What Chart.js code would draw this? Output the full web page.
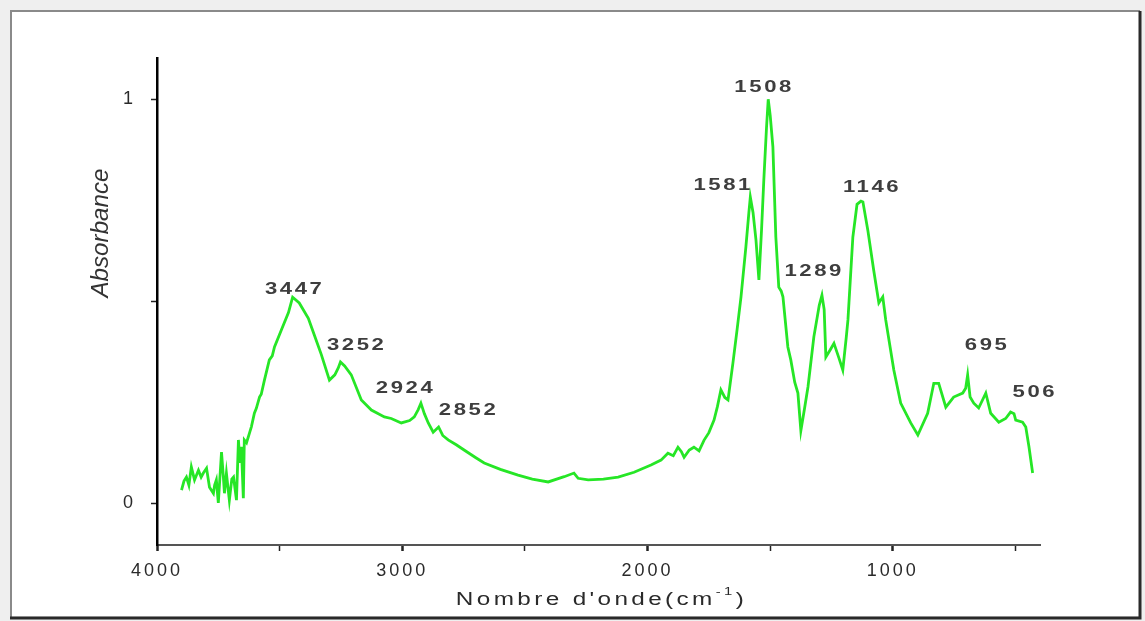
<!DOCTYPE html>
<html>
<head>
<meta charset="utf-8">
<script src="https://cdn.jsdelivr.net/npm/chart.js@4.4.1/dist/chart.umd.min.js"></script>
<style>
html,body{margin:0;padding:0;background:#efefef;overflow:hidden}
#wrap{position:relative;width:1145px;height:621px}
</style>
</head>
<body>
<div id="wrap"><canvas id="c" width="1145" height="621"></canvas></div>
<script>
// ---- data ----
const wavenumber = [
  3900,3890,3880,3870,3860,3847,3831,3820,3811,3798,3786,3770,3765,3758,3750,3737,3730,3725,3717,3705,
  3695,3688,3676,3668,3662,3656,3648,3644,3635,3623,3615,3603,3595,3582,3575,3562,3542,3530,3521,3493,
  3464,3447,3420,3383,3359,3330,3297,3275,3261,3252,3235,3208,3167,3126,3073,3045,3004,2970,2951,2935,
  2924,2910,2894,2874,2852,2835,2813,2780,2748,2700,2666,2600,2528,2470,2405,2340,2300,2283,2242,2180,2120,2055,1986,1945,1917,
  1895,1876,1862,1851,1830,1811,1790,1770,1750,1729,1715,1701,1685,1672,1652,1635,1619,1599,1587,1581,
  1570,1558,1546,1535,1526,1515,1508,1500,1489,1477,1465,1455,1448,1428,1416,1400,1387,1375,1360,1346,
  1322,1300,1289,1280,1273,1255,1240,1220,1204,1190,1183,1163,1146,1130,1122,1102,1078,1057,1041,1029,
  996,968,927,898,858,833,813,784,752,715,703,695,685,670,650,621,601,568,540,520,
  506,499,471,458,445,430
];
const absorbance = [
  0.033,0.055,0.065,0.045,0.090,0.058,0.082,0.065,0.075,0.087,0.040,0.025,0.045,0.058,0.001,0.127,0.070,0.025,0.075,0.008,
  0.060,0.065,0.008,0.157,0.100,0.140,0.013,0.157,0.150,0.174,0.190,0.223,0.235,0.263,0.270,0.305,0.355,0.365,0.387,0.429,
  0.472,0.510,0.496,0.458,0.417,0.368,0.305,0.318,0.335,0.350,0.340,0.318,0.256,0.231,0.214,0.210,0.199,0.205,0.214,0.232,
  0.248,0.222,0.199,0.176,0.189,0.168,0.157,0.145,0.132,0.113,0.100,0.084,0.070,0.060,0.053,0.066,0.075,0.062,0.058,0.060,0.065,0.077,0.095,0.107,0.124,
  0.118,0.139,0.128,0.114,0.132,0.139,0.130,0.156,0.175,0.206,0.240,0.281,0.262,0.256,0.347,0.430,0.511,0.635,0.719,0.758,
  0.720,0.652,0.553,0.680,0.800,0.930,1.000,0.960,0.882,0.659,0.535,0.525,0.511,0.387,0.355,0.300,0.273,0.180,0.235,0.288,
  0.412,0.490,0.515,0.480,0.362,0.380,0.396,0.360,0.330,0.410,0.454,0.659,0.740,0.748,0.746,0.676,0.577,0.496,0.511,0.454,
  0.330,0.248,0.199,0.169,0.223,0.297,0.297,0.238,0.263,0.273,0.285,0.318,0.263,0.248,0.236,0.273,0.223,0.201,0.210,0.226,
  0.222,0.206,0.201,0.189,0.140,0.075
];
const xTickValues = [4000,3500,3000,2500,2000,1500,1000,500];
const xTickLabelled = [4000,3000,2000,1000];
const yTickValues = [0,0.5,1];
const yTickLabelled = [0,1];
const peakLabels = ['3447','3252','2924','2852','1581','1508','1289','1146','695','506'];
const peakLabelX = [3444,3191,2992,2735,1697,1530,1326,1090,621,426];
const peakLabelY = [0.530,0.392,0.285,0.231,0.788,1.030,0.573,0.783,0.392,0.276];
const xTitleMain = "Nombre d'onde(cm";
const xTitleSup = "-1";
const xTitleEnd = ")";
const yTitle = "Absorbance";

const FONT = '"Liberation Sans", Arial, sans-serif';

const framePlugin = {
  id: 'frame',
  beforeDraw(chart) {
    const ctx = chart.ctx;
    ctx.save();
    ctx.fillStyle = '#efefef';
    ctx.fillRect(0, 0, chart.width, chart.height);
    ctx.fillStyle = '#ffffff';
    ctx.fillRect(11, 11, 1129, 605);
    ctx.strokeStyle = '#8a8a8a';
    ctx.lineWidth = 2;
    ctx.beginPath();
    ctx.moveTo(11, 617); ctx.lineTo(11, 11); ctx.lineTo(1140, 11);
    ctx.stroke();
    ctx.strokeStyle = '#2a2a2a';
    ctx.lineWidth = 3;
    ctx.beginPath();
    ctx.moveTo(1140, 11); ctx.lineTo(1140, 618); ctx.lineTo(10, 618);
    ctx.stroke();
    ctx.restore();
    ctx.letterSpacing = '3px';
  },
  afterDatasetsDraw(chart) {
    const ctx = chart.ctx;
    const xs = chart.scales.x, ys = chart.scales.y;
    ctx.save();
    ctx.letterSpacing = '2px';
    ctx.font = 'bold 17px ' + FONT;
    ctx.fillStyle = '#3e3e3e';
    ctx.textAlign = 'center';
    ctx.textBaseline = 'middle';
    for (let i = 0; i < peakLabels.length; i++) {
      const px = xs.getPixelForValue(peakLabelX[i]);
      const py = ys.getPixelForValue(peakLabelY[i]);
      ctx.save();
      ctx.translate(px, py);
      ctx.scale(1.3, 1);
      ctx.fillText(peakLabels[i], 1, 0);
      ctx.restore();
    }
    ctx.restore();
  },
  afterDraw(chart) {
    const ctx = chart.ctx;
    const ca = chart.chartArea;
    // x axis title
    ctx.save();
    ctx.letterSpacing = '2.5px';
    ctx.fillStyle = '#2a2a2a';
    ctx.textBaseline = 'middle';
    ctx.textAlign = 'left';
    const cx = (ca.left + ca.right) / 2 + 3;
    const cy = 600;
    ctx.translate(cx, cy);
    ctx.scale(1.35, 1);
    ctx.font = '18px ' + FONT;
    const w1 = ctx.measureText(xTitleMain).width;
    const w3 = ctx.measureText(xTitleEnd).width;
    ctx.font = '11px ' + FONT;
    const w2 = ctx.measureText(xTitleSup).width;
    let x0 = -(w1 + w2 + w3) / 2;
    ctx.font = '18px ' + FONT;
    ctx.fillText(xTitleMain, x0, 0);
    ctx.font = '11px ' + FONT;
    ctx.fillText(xTitleSup, x0 + w1, -8);
    ctx.font = '18px ' + FONT;
    ctx.fillText(xTitleEnd, x0 + w1 + w2, 0);
    ctx.restore();
    // y axis title
    ctx.save();
    ctx.letterSpacing = '0px';
    ctx.fillStyle = '#333333';
    ctx.font = 'italic 22px ' + FONT;
    ctx.textAlign = 'center';
    ctx.textBaseline = 'middle';
    ctx.translate(101, ca.top + 175);
    ctx.rotate(-Math.PI / 2);
    ctx.scale(1.1, 1.1);
    ctx.fillText(yTitle, 0, 0);
    ctx.restore();
    ctx.letterSpacing = '0px';
  }
};

const points = wavenumber.map((w, i) => ({ x: w, y: absorbance[i] }));

new Chart(document.getElementById('c'), {
  type: 'line',
  data: {
    datasets: [{
      label: 'Absorbance',
      data: points,
      borderColor: '#26e626',
      borderWidth: 2.8,
      pointRadius: 0,
      tension: 0,
      fill: false
    }]
  },
  options: {
    responsive: false,
    animation: false,
    devicePixelRatio: 1,
    layout: { padding: { left: 97, right: 105, top: 58, bottom: 16 } },
    plugins: { legend: { display: false }, tooltip: { enabled: false }, title: { display: false } },
    scales: {
      x: {
        type: 'linear',
        position: 'bottom',
        reverse: true,
        min: 400,
        max: 4000,
        afterBuildTicks: s => { s.ticks = xTickValues.map(v => ({ value: v })); },
        afterFit: s => { s.height = 60; },
        ticks: {
          autoSkip: false,
          maxRotation: 0,
          padding: 9,
          color: '#2a2a2a',
          font: { family: FONT, size: 18 },
          callback: v => xTickLabelled.includes(v) ? String(v) : ''
        },
        grid: {
          drawOnChartArea: false,
          drawTicks: true,
          tickLength: 6,
          tickColor: '#222222',
          tickWidth: c => (c.tick && xTickLabelled.includes(c.tick.value)) ? 2.5 : 1.5
        },
        border: { display: true, color: '#555555', width: 2 }
      },
      y: {
        type: 'linear',
        position: 'left',
        min: -0.103,
        max: 1.102,
        afterBuildTicks: s => { s.ticks = yTickValues.map(v => ({ value: v })); },
        afterFit: s => { s.width = 60; },
        ticks: {
          autoSkip: false,
          padding: 15,
          color: '#2a2a2a',
          font: { family: FONT, size: 18 },
          callback: v => yTickLabelled.includes(v) ? String(v) : ''
        },
        grid: {
          drawOnChartArea: false,
          drawTicks: true,
          tickLength: 6,
          tickColor: '#222222',
          tickWidth: 1.5
        },
        border: { display: true, color: '#000000', width: 2.5 }
      }
    }
  },
  plugins: [framePlugin]
});
</script>
</body>
</html>
